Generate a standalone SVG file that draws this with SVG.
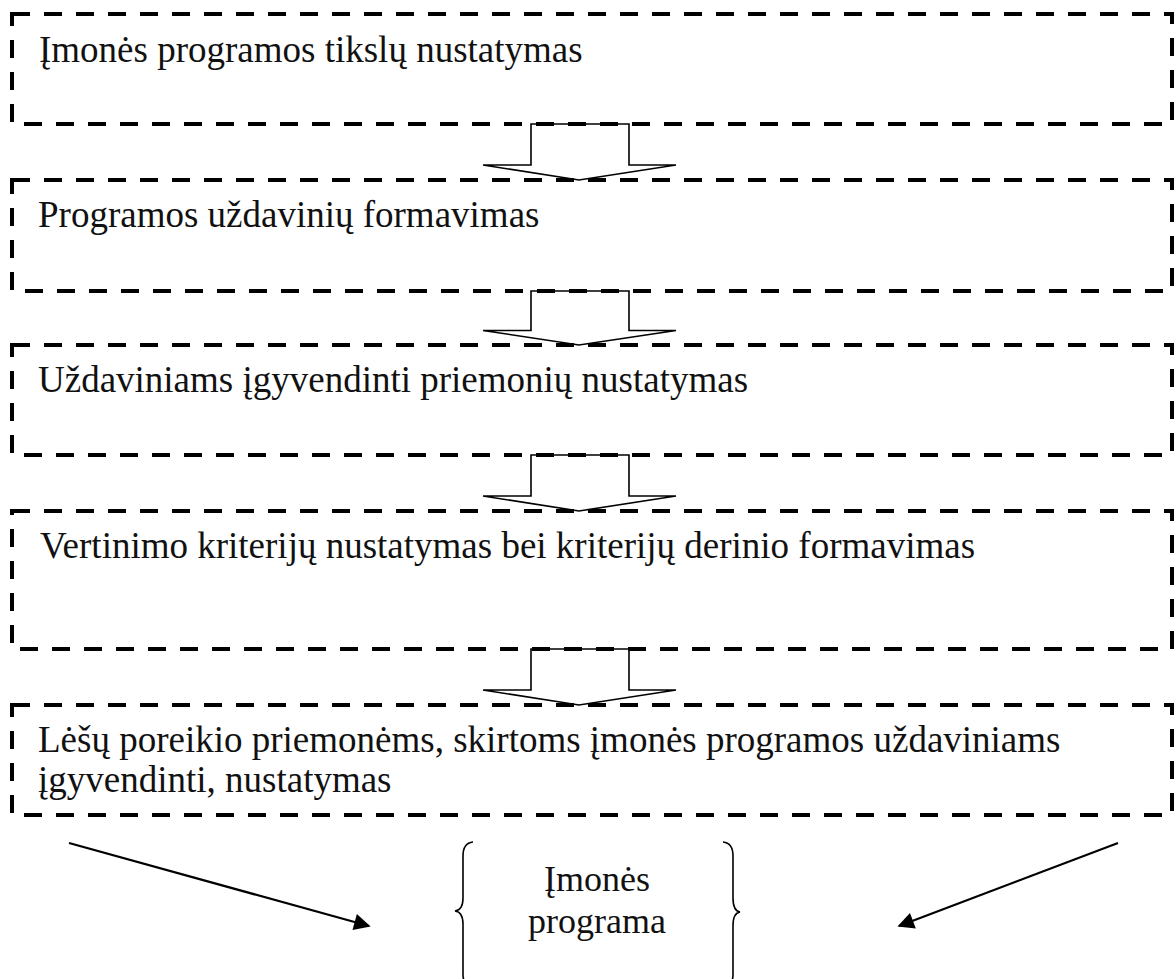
<svg xmlns="http://www.w3.org/2000/svg" width="1176" height="979" viewBox="0 0 1176 979">
  <defs>
    <style>
      .box { fill: none; stroke: #000; stroke-width: 4; stroke-dasharray: 18 14; }
      .label { font-family: "Liberation Serif", "Times New Roman", serif; font-size: 37px; fill: #111; }
      .block { fill: #fff; stroke: #000; stroke-width: 1.6; stroke-linejoin: miter; }
      .line { fill: none; stroke: #000; stroke-width: 2.2; }
      .brace { fill: none; stroke: #000; stroke-width: 1.6; }
    </style>
    <marker id="head" viewBox="0 0 10 10" refX="9" refY="5" markerWidth="10" markerHeight="7.5" markerUnits="strokeWidth" orient="auto">
      <path d="M0,0 L10,5 L0,10 Z" fill="#000"/>
    </marker>
    <polygon id="down" points="531,0 629,0 629,41 676,41 579,56 483,41 531,41"/>
  </defs>

  <rect width="1176" height="979" fill="#fff"/>

  <!-- block arrows between the steps and the two final arrows -->
  <g id="connectors">
    <use href="#down" class="block" transform="translate(0,124)"/>
    <use href="#down" class="block" transform="translate(0,291) scale(1,0.964)"/>
    <use href="#down" class="block" transform="translate(0,455)"/>
    <use href="#down" class="block" transform="translate(0,649)"/>
    <line class="line" x1="69" y1="843" x2="369" y2="926" marker-end="url(#head)"/>
    <line class="line" x1="1118" y1="843" x2="899" y2="926" marker-end="url(#head)"/>
  </g>

  <g id="step1">
    <rect class="box" x="12" y="14" width="1160" height="110"/>
    <text class="label" x="39" y="62">Įmonės programos tikslų nustatymas</text>
  </g>

  <g id="step2">
    <rect class="box" x="12" y="180" width="1160" height="111"/>
    <text class="label" x="38" y="227">Programos uždavinių formavimas</text>
  </g>

  <g id="step3">
    <rect class="box" x="12" y="345" width="1160" height="110"/>
    <text class="label" x="38" y="392">Uždaviniams įgyvendinti priemonių nustatymas</text>
  </g>

  <g id="step4">
    <rect class="box" x="12" y="511" width="1160" height="138"/>
    <text class="label" x="40" y="558">Vertinimo kriterijų nustatymas bei kriterijų derinio formavimas</text>
  </g>

  <g id="step5">
    <rect class="box" x="12" y="705" width="1160" height="110"/>
    <text class="label" x="38" y="752">Lėšų poreikio priemonėms, skirtoms įmonės programos uždaviniams</text>
    <text class="label" x="38" y="792">įgyvendinti, nustatymas</text>
  </g>

  <g id="result">
    <path class="brace" d="M473,842 Q463,843 463,856 L463,898 Q463,910 455,911 Q463,912 463,924 L463,975 Q463,985 473,986"/>
    <path class="brace" d="M723,842 Q733,843 733,856 L733,898 Q733,911 740,912 Q733,913 733,926 L733,975 Q733,985 723,986"/>
    <text class="label" x="597" y="891" text-anchor="middle" style="font-size:36px">Įmonės</text>
    <text class="label" x="597" y="933" text-anchor="middle" style="font-size:36px">programa</text>
  </g>
</svg>
